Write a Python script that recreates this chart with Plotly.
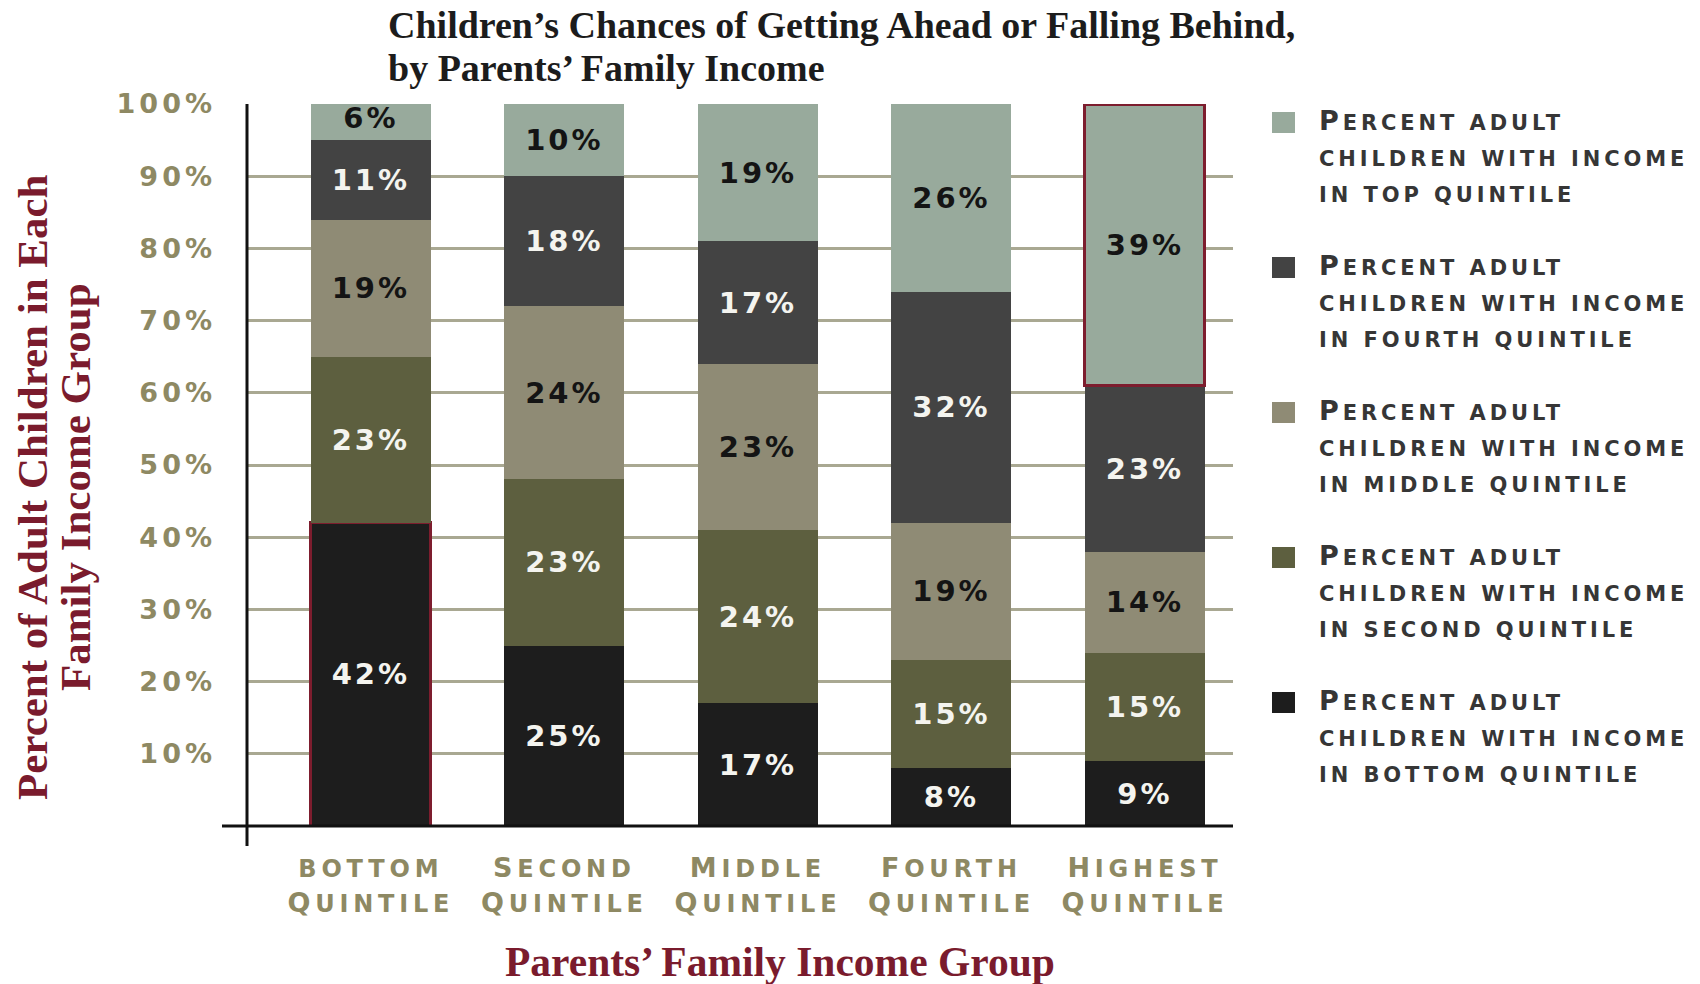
import plotly.graph_objects as go

# ---------------- data ----------------
categories = ["bottom Quintile", "Second Quintile", "Middle Quintile",
              "Fourth Quintile", "Highest Quintile"]

series_names = [
    "Percent adult children with income in bottom quintile",
    "Percent adult children with income in second quintile",
    "Percent adult children with income in middle quintile",
    "Percent adult children with income in fourth quintile",
    "Percent adult children with income in top quintile",
]

bottom_q = [42, 25, 17, 8, 9]
second_q = [23, 23, 24, 15, 15]
middle_q = [19, 24, 23, 19, 14]
fourth_q = [11, 18, 17, 32, 23]
top_q = [6, 10, 19, 26, 39]

y_tick_values = [10, 20, 30, 40, 50, 60, 70, 80, 90, 100]
y_tick_labels = ["10%", "20%", "30%", "40%", "50%", "60%", "70%", "80%", "90%", "100%"]

title_lines = ["Children’s Chances of Getting Ahead or Falling Behind,",
               "by Parents’ Family Income"]
y_title_lines = ["Percent of Adult Children in Each", "Family Income Group"]
x_title = "Parents’ Family Income Group"

# ---------------- style ----------------
colors = ["#1d1d1d", "#5d5f3f", "#8f8b75", "#434343", "#98aa9c"]
label_colors = ["#f4f4ef", "#f4f4ef", "#141414", "#f4f4ef", "#141414"]
highlight_color = "#7d1d2e"
khaki = "#8e8963"
dark_red = "#7a1b2d"

W, H = 1700, 984
L, R, T, B = 247, 1233, 104, 826
PW, PH = R - L, B - T


def px_x(px):
    return (px - L) / PW


def px_y(py):
    return (B - py) / PH


def smallcaps(text, big, small, ls):
    out = []
    for word in text.split(" "):
        parts = []
        for ci, ch in enumerate(word):
            size = big if (ci == 0 and ch.isupper()) else small
            parts.append(f"<span style='font-size:{size}px;letter-spacing:{ls}px'>{ch.upper()}</span>")
        out.append("".join(parts))
    sp = f"<span style='font-size:{small}px;letter-spacing:{ls}px'> </span>"
    return sp.join(out)


series_values = [bottom_q, second_q, middle_q, fourth_q, top_q]
highlight_index = {0: 0, 4: 4}   # series index -> category index with red outline

fig = go.Figure()
for si, (name, vals) in enumerate(zip(series_names, series_values)):
    lw = [0] * len(vals)
    lc = [colors[si]] * len(vals)
    if si in highlight_index:
        lw[highlight_index[si]] = 3
        lc[highlight_index[si]] = highlight_color
    fig.add_trace(go.Bar(
        x=categories, y=vals, name=name, width=0.62,
        marker=dict(color=colors[si], line=dict(color=lc, width=lw)),
        text=[f"{v}%" for v in vals],
        texttemplate="<span style='letter-spacing:3px'>%{text}</span>",
        textposition="inside", insidetextanchor="middle", textangle=0,
        constraintext="none",
        textfont=dict(family="DejaVu Sans", size=29, color=label_colors[si], weight="bold"),
        showlegend=False, hoverinfo="x+y+name",
    ))

# manual legend (top quintile first)
annotations = []
shapes = []
for i, si in enumerate(reversed(range(len(series_names)))):
    name = series_names[si]
    words = name.split(" ")
    lines = [" ".join(words[0:2]), " ".join(words[2:5]), " ".join(words[5:])]
    text = "<br>".join(smallcaps(ln, 27, 21, 3.9) for ln in lines)
    cy = 122.5 + 145 * i
    shapes.append(dict(type="rect", xref="paper", yref="paper",
                       x0=px_x(1272), x1=px_x(1295), y0=px_y(cy + 10.5), y1=px_y(cy - 10.5),
                       fillcolor=colors[si], line=dict(width=0)))
    annotations.append(dict(xref="paper", yref="paper", x=px_x(1317), y=px_y(cy + 33),
                            xanchor="left", yanchor="middle", align="left", showarrow=False,
                            text=text,
                            font=dict(family="DejaVu Sans", size=27.5, color="#363636", weight="bold")))

# chart title (two lines, tight spacing)
for ln, cy in zip(title_lines, [25, 68]):
    annotations.append(dict(xref="paper", yref="paper", x=px_x(386), y=px_y(cy),
                            xanchor="left", yanchor="middle", showarrow=False, text=ln,
                            font=dict(family="Liberation Serif", size=38, color="#1c1c1c",
                                      weight="bold")))

# axis titles
y_title_text = "<br>".join(f"<span style='font-size:43px'>{ln}</span>" for ln in y_title_lines)
annotations.append(dict(xref="paper", yref="paper", x=px_x(54), y=px_y(487),
                        xanchor="center", yanchor="middle", textangle=-90, showarrow=False,
                        text=y_title_text, align="center",
                        font=dict(family="Liberation Serif", size=33, color=dark_red, weight="bold")))
annotations.append(dict(xref="paper", yref="paper", x=px_x(780), y=px_y(962),
                        xanchor="center", yanchor="middle", showarrow=False,
                        text=x_title,
                        font=dict(family="Liberation Serif", size=41.5, color=dark_red, weight="bold")))

# axis lines (extending past the plot corner)
shapes.append(dict(type="line", xref="paper", yref="paper", x0=0, x1=0,
                   y0=px_y(846), y1=1, line=dict(color="#111111", width=3), layer="above"))
shapes.append(dict(type="line", xref="paper", yref="paper", x0=px_x(222), x1=1,
                   y0=0, y1=0, line=dict(color="#111111", width=3), layer="above"))

x_tick_text = ["<br>".join(smallcaps(w, 27, 24, 4.8) for w in c.split(" ")) for c in categories]
y_tick_text = [f"<span style='letter-spacing:4px'>{t}</span>" for t in y_tick_labels]

fig.update_layout(
    width=W, height=H, autosize=False,
    margin=dict(l=L, r=W - R, t=T, b=H - B, pad=0),
    paper_bgcolor="white", plot_bgcolor="white",
    barmode="stack",
    xaxis=dict(type="category", range=[-0.64, 4.455], tickmode="array",
               tickvals=categories, ticktext=x_tick_text, showgrid=False, showline=False,
               ticks="", zeroline=False, ticklabelstandoff=23,
               tickfont=dict(family="DejaVu Sans", size=27, color=khaki, weight="bold")),
    yaxis=dict(range=[0, 100], tickmode="array", tickvals=y_tick_values, ticktext=y_tick_text,
               showgrid=True, gridcolor="#a9a892", gridwidth=2.5, showline=False, zeroline=False,
               ticks="", ticklabelstandoff=30,
               tickfont=dict(family="DejaVu Sans", size=27, color=khaki, weight="bold")),
    shapes=shapes, annotations=annotations,
    showlegend=False,
)

fig.write_html("out.html", config={"displayModeBar": False},
               post_script="document.body.style.margin='0px';document.body.style.overflow='hidden';")
